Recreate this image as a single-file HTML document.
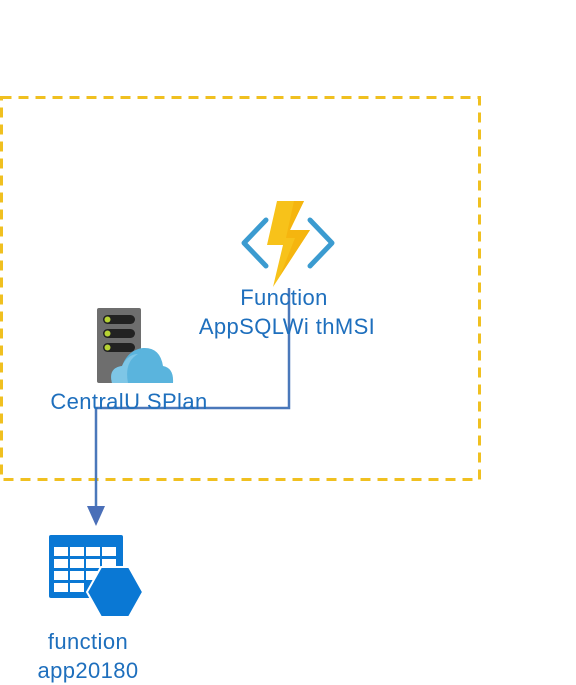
<!DOCTYPE html>
<html><head><style>
body{margin:0;width:576px;height:672px;overflow:hidden;background:#fff;position:relative;font-family:"Segoe UI","Liberation Sans","DejaVu Sans",sans-serif}
.t{position:absolute;color:#1e6fbd;font-size:22px;line-height:29px;text-align:center;white-space:nowrap;letter-spacing:0.4px}
</style></head><body>
<svg width="576" height="672" style="position:absolute;left:0;top:0">
<rect x="1.5" y="97.5" width="478" height="382" fill="none" stroke="#f0c020" stroke-width="3" stroke-dasharray="10,7"/>
<polyline points="266,220 244,243 266,266" fill="none" stroke="#3b9bd0" stroke-width="5" stroke-linecap="round" stroke-linejoin="round"/>
<polyline points="310,220 332,243 310,266" fill="none" stroke="#3b9bd0" stroke-width="5" stroke-linecap="round" stroke-linejoin="round"/>
<g transform="translate(12,0)">
<polygon points="265,201 292,201 278,230 298,230 261,287 271,245 255,245" fill="#f7c21a"/>
<polygon points="282,201 292,201 278,230 298,230 268,276 283,238 274,238" fill="#f5b50f"/>
</g>
<rect x="97" y="308" width="44" height="75" rx="2" fill="#6e6e6e"/>
<rect x="103" y="315" width="32" height="9" rx="4.5" fill="#222"/>
<rect x="103" y="329" width="32" height="9" rx="4.5" fill="#222"/>
<rect x="103" y="343" width="32" height="9" rx="4.5" fill="#222"/>
<circle cx="107.5" cy="319.5" r="3" fill="#b7d334"/>
<circle cx="107.5" cy="333.5" r="3" fill="#b7d334"/>
<circle cx="107.5" cy="347.5" r="3" fill="#b7d334"/>
<path d="M112,383 Q108,368 122,366 Q128,350 143,348 Q160,347 163,366 Q174,368 173,383 Z" fill="#5ab4dd"/>
<path d="M112,383 Q108,368 122,366 Q128,354 138,354 Q124,362 128,383Z" fill="#7ec6e6"/>
<polyline points="289,288 289,408 96,408 96,508" fill="none" stroke="#4a78ba" stroke-width="2.5"/>
<polygon points="87,506 105,506 96,526" fill="#4a6fb8"/>
<rect x="49" y="535" width="74" height="63" rx="2" fill="#0a78d4"/>
<g fill="#fff">
<rect x="54" y="547" width="14" height="9"/><rect x="70" y="547" width="14" height="9"/><rect x="86" y="547" width="14" height="9"/><rect x="102" y="547" width="14" height="9"/>
<rect x="54" y="559" width="14" height="9"/><rect x="70" y="559" width="14" height="9"/><rect x="86" y="559" width="14" height="9"/><rect x="102" y="559" width="14" height="9"/>
<rect x="54" y="571" width="14" height="9"/><rect x="70" y="571" width="14" height="9"/><rect x="86" y="571" width="14" height="9"/>
<rect x="54" y="583" width="14" height="9"/><rect x="70" y="583" width="14" height="9"/>
</g>
<polygon points="101,567 129,567 143,592 129,617 101,617 87,592" fill="#0a78d4" stroke="#fff" stroke-width="2"/>
</svg>
<div class="t" style="left:184px;top:283px;width:200px">Function</div>
<div class="t" style="left:137px;top:312px;width:300px">AppSQLWi thMSI</div>
<div class="t" style="left:-21px;top:387px;width:300px">CentralU SPlan</div>
<div class="t" style="left:-12px;top:627px;width:200px">function</div>
<div class="t" style="left:-12px;top:656px;width:200px">app20180</div>
</body></html>
